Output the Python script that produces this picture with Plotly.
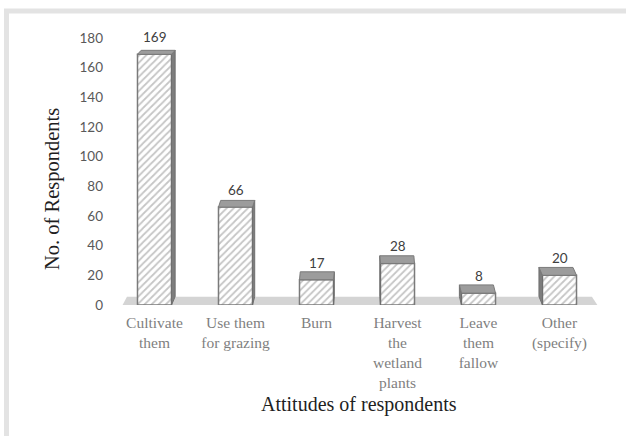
import plotly.graph_objects as go

# Survey data: attitudes towards wetlands
categories = ["Cultivate<br>them", "Use them<br>for grazing", "Burn",
              "Harvest<br>the<br>wetland<br>plants", "Leave<br>them<br>fallow",
              "Other<br>(specify)"]
respondents = [169, 66, 17, 28, 8, 20]
y_ticks = [0, 20, 40, 60, 80, 100, 120, 140, 160, 180]

# Canvas geometry (pixels)
W, H = 626, 436
ML, MR, MT, MB = 114, 26, 38, 131
PW, PH = W - ML - MR, H - MT - MB
YMAX = 180
N = len(categories)
BAR_W = 0.42

def paper_x(px):
    return (px - ML) / PW

def paper_y(py):
    return (H - MB - py) / PH

x_per_px = N / PW
y_per_px = YMAX / PH

fig = go.Figure()
fig.add_trace(go.Bar(
    x=list(range(N)), y=respondents, width=BAR_W,
    marker=dict(color="white",
                line=dict(color="#7a7a7a", width=1.5),
                pattern=dict(shape="/", fgcolor="#8c8c8c", bgcolor="white",
                             size=5, solidity=0.35)),
    hoverinfo="skip",
))

shapes = []
# Grey floor under the bars
shapes.append(dict(
    type="path", xref="x", yref="y", layer="below",
    path="M -0.40,-0.6 L 5.475,-0.6 L 5.40,5.6 L -0.34,5.6 Z",
    fillcolor="#d4d4d4", line=dict(width=0),
))

# Perspective top and side faces for each bar
VX, VY, K = 360.0, -171.0, 0.0177
h = BAR_W / 2
for i, v in enumerate(respondents):
    xc_px = ML + (i + 0.5) * PW / N
    ytop_px = (H - MB) - v / y_per_px
    dx = (VX - xc_px) * K * x_per_px
    dy = (ytop_px - VY) * K * y_per_px
    dy0 = ((H - MB) - VY) * K * y_per_px
    xs = i + h if dx >= 0 else i - h
    shapes.append(dict(
        type="path", xref="x", yref="y", layer="above",
        path=f"M {xs},0 L {xs},{v} L {xs+dx},{v+dy} L {xs+dx},{dy0} Z",
        fillcolor="#7d7d7d", line=dict(color="#6f6f6f", width=1),
    ))
    shapes.append(dict(
        type="path", xref="x", yref="y", layer="above",
        path=(f"M {i-h},{v} L {i+h},{v} L {i+h+dx},{v+dy} "
              f"L {i-h+dx},{v+dy} Z"),
        fillcolor="#9c9c9c", line=dict(color="#7a7a7a", width=1),
    ))

# Light frame around the chart
shapes.append(dict(
    type="rect", xref="paper", yref="paper", layer="below",
    x0=paper_x(6.5), x1=paper_x(700), y0=paper_y(520), y1=paper_y(11),
    line=dict(color="#e3e3e3", width=5), fillcolor="rgba(0,0,0,0)",
))

annotations = []
for i, v in enumerate(respondents):
    annotations.append(dict(
        x=i, y=v, xref="x", yref="y", text=str(v), showarrow=False,
        xanchor="center", yanchor="middle", yshift=17,
        font=dict(family="Lato", size=13.5, color="#404040"),
    ))
annotations.append(dict(
    x=paper_x(52), y=paper_y(189), xref="paper", yref="paper",
    xanchor="center", yanchor="middle",
    text="No. of Respondents", textangle=-90, showarrow=False,
    font=dict(family="Liberation Serif", size=20.5, color="#1f1f1f"),
))
annotations.append(dict(
    x=paper_x(359), y=paper_y(404), xref="paper", yref="paper",
    xanchor="center", yanchor="middle",
    text="Attitudes of respondents", showarrow=False,
    font=dict(family="Liberation Serif", size=20, color="#1f1f1f"),
))

fig.update_layout(
    width=W, height=H,
    margin=dict(l=ML, r=MR, t=MT, b=MB),
    paper_bgcolor="white", plot_bgcolor="white",
    showlegend=False, bargap=0.58,
    shapes=shapes, annotations=annotations,
    xaxis=dict(range=[-0.5, N - 0.5], tickmode="array",
               tickvals=list(range(N)), ticktext=categories,
               showgrid=False, zeroline=False, showline=False, ticks="",
               ticklabelstandoff=6,
               tickfont=dict(family="Liberation Serif", size=15.5,
                             color="#7f7f7f")),
    yaxis=dict(range=[0, YMAX], tickmode="array", tickvals=y_ticks,
               showgrid=False, zeroline=False, showline=False, ticks="",
               ticklabelstandoff=10,
               tickfont=dict(family="Lato", size=13.5, color="#595959")),
)

fig.write_html("out.html")
